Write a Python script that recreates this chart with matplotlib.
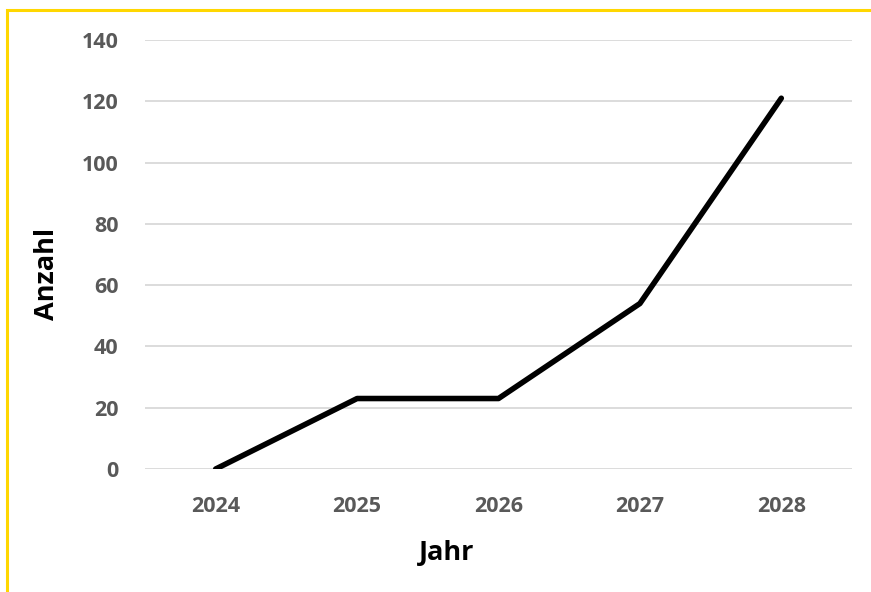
import matplotlib.pyplot as plt
from matplotlib.patches import Rectangle

jahre = ["2024", "2025", "2026", "2027", "2028"]
anzahl = [0, 23, 23, 54, 121]
y_ticks = [0, 20, 40, 60, 80, 100, 120, 140]

plt.rcParams['font.family'] = ['Open Sans', 'DejaVu Sans']

fig = plt.figure(figsize=(8.71, 5.92), dpi=100)
ax = fig.add_axes([145 / 871, 1 - 469 / 592, 707 / 871, 429 / 592])

x = list(range(len(jahre)))
ax.plot(x, anzahl, color="black", linewidth=4, solid_capstyle="round", zorder=3)

ax.set_xlim(-0.5, len(jahre) - 0.5)
ax.set_ylim(0, 140)
ax.set_xticks(x)
ax.set_xticklabels(jahre)
ax.set_yticks(y_ticks)
ax.grid(axis="y", color="#d9d9d9", linewidth=1.3)
ax.set_axisbelow(True)
for s in ax.spines.values():
    s.set_visible(False)
ax.tick_params(length=0, labelsize=15.5, labelcolor="#595959")
ax.tick_params(axis="x", pad=19.5)
ax.tick_params(axis="y", pad=19)
for lab in ax.get_xticklabels() + ax.get_yticklabels():
    lab.set_fontweight("bold")

# achsentitel
fig.text(447 / 871, 1 - 553 / 592, "Jahr", ha="center", va="center",
         fontsize=19.5, fontweight="bold", color="black")
fig.text(47 / 871, 1 - 274 / 592, "Anzahl", ha="center", va="center",
         rotation=90, fontsize=19.5, fontweight="bold", color="black")

# gelber rahmen
fig.patches.append(Rectangle((7 / 871, -0.1), 1.2, 1 - 10 / 592 + 0.1,
                             transform=fig.transFigure, fill=False,
                             edgecolor="#ffd700", linewidth=2.2))

fig.savefig("out.png", dpi=100)
